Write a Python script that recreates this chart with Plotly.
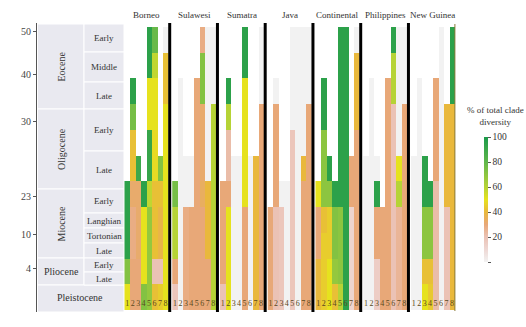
import plotly.graph_objects as go

N = None
regions = ["Borneo", "Sulawesi", "Sumatra", "Java", "Continental", "Philippines", "New Guinea"]
clades = ["1", "2", "3", "4", "5", "6", "7", "8"]
epochs = ["Eocene", "Oligocene", "Miocene", "Pliocene", "Pleistocene"]
sub_epochs = ["Early", "Middle", "Late", "Early", "Late", "Early", "Langhian",
              "Tortonian", "Late", "Early", "Late"]
age_ticks = ["50", "40", "30", "23", "10", "4"]
colorbar_ticks = [0, 20, 40, 60, 80, 100]

# % of total clade diversity; one list per clade (columns 1-8), 11 time bins top->bottom
borneo = [
    [N, N, N, N, N, N, 95, 95, 95, 72, 50],
    [N, N, 95, 75, 42, 42, 32, 28, 28, 30, 30],
    [N, N, N, N, N, 90, 32, 32, 32, 30, 30],
    [N, N, N, N, N, N, 95, 50, 50, 50, 72],
    [95, 95, 50, 50, 92, 92, 58, 68, 68, 68, 68],
    [78, 58, 50, 50, 48, 48, 42, 42, 42, 20, 42],
    [N, N, N, N, N, 72, 42, 38, 38, 20, 45],
    [0, 42, 42, 50, 50, 50, 50, 50, 50, 50, 50],
]
sulawesi = [
    [N, N, N, N, N, N, 75, 60, 60, 30, 18],
    [N, N, 0, 0, 0, 0, 0, 0, 0, 0, 0],
    [N, N, N, N, N, 0, 0, 28, 28, 28, 28],
    [N, N, N, N, N, 0, 0, 30, 30, 30, 30],
    [N, N, 30, 30, 30, 30, 30, 30, 30, 30, 30],
    [28, 72, 72, 32, 32, 32, 34, 30, 30, 30, 30],
    [0, 0, 0, 0, 0, 0, 40, 40, 40, 30, 30],
    [0, 0, 0, 60, 60, 60, 60, 60, 60, 60, 60],
]
sumatra = [
    [N, N, N, N, N, N, 30, 30, 30, 30, 20],
    [N, N, 95, 60, 22, 22, 30, 50, 50, 50, 50],
    [N, N, N, N, N, 0, 0, 0, 0, 0, 0],
    [N, N, N, N, N, 0, 0, 0, 0, 0, 0],
    [95, 95, 50, 50, 50, 50, 50, 30, 30, 30, 30],
    [N, N, N, N, N, 0, 0, 0, 0, 0, 0],
    [N, N, N, N, N, 40, 40, 40, 40, 40, 40],
    [0, 0, 0, 30, 30, 30, 30, 30, 30, 30, 30],
]
java = [
    [N, N, N, N, N, N, N, 30, 30, 30, 30],
    [N, N, 0, 30, 30, 30, 30, 20, 20, 20, 20],
    [N, N, N, N, N, N, 0, 18, 18, 18, 18],
    [N, N, N, N, N, N, 0, 0, 0, 0, 0],
    [0, 0, 0, 0, 18, 18, 18, 18, 18, 18, 18],
    [0, 0, 0, 0, 0, 0, 0, 0, 0, 0, 0],
    [0, 0, 0, 0, 0, 40, 30, 30, 30, 30, 30],
    [0, 0, 0, 30, 30, 30, 30, 30, 30, 30, 30],
]
continental = [
    [N, N, N, N, N, N, 50, 30, 30, 40, 40],
    [N, N, 95, 95, 70, 70, 70, 42, 45, 45, 45],
    [N, N, N, N, N, 95, 70, 45, 45, 50, 50],
    [N, N, N, N, N, N, 95, 72, 72, 68, 42],
    [95, 95, 95, 95, 95, 95, 95, 70, 70, 70, 60],
    [95, 95, 95, 95, 95, 95, 95, 95, 95, 95, 95],
    [N, N, N, N, N, 30, 30, 12, 12, 12, 12],
    [0, 40, 40, 40, 30, 30, 30, 30, 30, 30, 30],
]
philippines = [
    [N, N, N, N, N, 0, 0, 0, 0, 0, 0],
    [N, N, 0, 0, 0, 0, 0, 0, 0, 0, 0],
    [N, N, N, N, N, 0, 95, 30, 30, 15, 15],
    [N, N, N, N, N, N, N, 30, 30, 30, 30],
    [N, N, 30, 30, 30, 30, 30, 30, 30, 30, 30],
    [95, 60, 60, 20, 20, 20, 20, 20, 20, 20, 20],
    [0, 0, 0, 0, 0, 50, 60, 25, 25, 25, 25],
    [0, 0, 0, 30, 30, 30, 30, 30, 30, 30, 30],
]
new_guinea = [
    [N, N, N, N, N, 0, 0, 0, 0, 0, 0],
    [N, N, 0, 0, 0, 0, 0, 0, 0, 0, 0],
    [N, N, N, N, N, 95, 95, 70, 70, 42, 50],
    [N, N, N, N, N, N, 95, 70, 70, 42, 44],
    [N, N, 30, 30, 30, 30, 22, 22, 22, 22, 22],
    [0, 0, 0, 0, 0, 0, 0, 0, 0, 0, 0],
    [N, N, N, 40, 40, 40, 40, 20, 20, 20, 20],
    [95, 95, 95, 40, 40, 40, 40, 40, 40, 40, 40],
]
region_data = [borneo, sulawesi, sumatra, java, continental, philippines, new_guinea]

# ---------------- layout helpers ----------------
SERIF = "Liberation Serif, Times New Roman, serif"
W, H = 526, 327
ML, MR, MT, MB = 37, 68, 23, 15
PW, PH = W - ML - MR, H - MT - MB
PX_TOP, PX_BOT = MT, H - MB
ROW_PX, ROW0_PX = 25.75, 27.0


def u(px):  # pixel row -> row units on the y axis
    return (px - ROW0_PX) / ROW_PX


def px_x(px):  # pixel column -> paper x
    return (px - ML) / PW


def px_y(px):  # pixel row -> paper y
    return (H - MB - px) / PH


REGION_X0, REGION_PITCH, COL_W = 124.5, 47.75, 5.45
n_rows = len(borneo[0])

colorscale = [
    [0.0, "#f2f2f2"], [0.1, "#eed8d4"], [0.2, "#ebc2b5"], [0.3, "#e8a878"],
    [0.4, "#e9b83c"], [0.5, "#e6e21e"], [0.6, "#b6d336"], [0.7, "#8cc540"],
    [0.8, "#5fb64b"], [1.0, "#1b9a4a"],
]

fig = go.Figure()
num_x, num_t = [], []
for k, data in enumerate(region_data):
    x0 = REGION_X0 + k * REGION_PITCH
    xs = [x0 + (j + 0.5) * COL_W for j in range(len(clades))]
    z = [[data[c][r] for c in range(len(clades))] for r in range(n_rows)]
    fig.add_trace(go.Heatmap(
        x=xs, y=[r + 0.5 for r in range(n_rows)], z=z, coloraxis="coloraxis",
        hoverongaps=False, name=regions[k],
    ))
    num_x += xs
    num_t += clades

fig.add_trace(go.Scatter(
    x=num_x, y=[u(304)] * len(num_x), text=num_t, mode="text",
    textfont=dict(family=SERIF, size=8, color="#5a4820"), hoverinfo="skip",
    showlegend=False,
))

shapes = []
annotations = []
# geological time-scale panel
epoch_bounds = [(24, 109), (109, 189), (189, 258), (258, 285)]
sub_bounds = [(24, 52), (52, 82), (82, 109), (109, 151), (151, 189), (189, 213),
              (213, 228), (228, 243), (243, 258), (258, 272), (272, 285)]
PANEL = "#e9e9f0"
TXT = dict(showarrow=False, xanchor="center", yanchor="middle")
for (a, b), name in zip(epoch_bounds, epochs[:4]):
    shapes.append(dict(type="rect", xref="x", yref="y", x0=37.5, x1=84, y0=u(a), y1=u(b),
                       fillcolor=PANEL, line=dict(color="white", width=1), layer="below"))
    annotations.append(dict(x=61, y=u((a + b) / 2), xref="x", yref="y", text=name,
                            textangle=-90 if name != "Pliocene" else 0,
                            font=dict(family=SERIF, size=10, color="#333"), **TXT))
shapes.append(dict(type="rect", xref="x", yref="y", x0=37.5, x1=124, y0=u(285), y1=u(312),
                   fillcolor=PANEL, line=dict(color="white", width=1), layer="below"))
annotations.append(dict(x=80, y=u(297), xref="x", yref="y", text=epochs[4],
                        font=dict(family=SERIF, size=10, color="#333"), **TXT))
for (a, b), name in zip(sub_bounds, sub_epochs):
    shapes.append(dict(type="rect", xref="x", yref="y", x0=84, x1=124, y0=u(a), y1=u(b),
                       fillcolor=PANEL, line=dict(color="white", width=1), layer="below"))
    annotations.append(dict(x=104, y=u((a + b) / 2), xref="x", yref="y", text=name,
                            font=dict(family=SERIF, size=9, color="#333"), **TXT))

# separators and region titles
for k, name in enumerate(regions):
    x0 = REGION_X0 + k * REGION_PITCH
    annotations.append(dict(x=px_x(x0 + 4 * COL_W), y=px_y(15), xref="paper", yref="paper",
                            text=name, font=dict(family=SERIF, size=9, color="#333"), **TXT))
    if k < len(regions) - 1:
        xl = x0 + 8 * COL_W + 1.6
        shapes.append(dict(type="line", xref="x", yref="y", x0=xl, x1=xl, y0=u(22), y1=u(312),
                           line=dict(color="black", width=3)))
xr = REGION_X0 + 6 * REGION_PITCH + 8 * COL_W + 0.3
shapes.append(dict(type="line", xref="x", yref="y", x0=xr, x1=xr, y0=u(24), y1=u(311),
                   line=dict(color="#8a7a3a", width=1)))

annotations.append(dict(x=px_x(495), y=px_y(116), xref="paper", yref="paper",
                        text="% of total clade<br>diversity",
                        font=dict(family=SERIF, size=9, color="#333"), **TXT))

age_pos = [u(31), u(74), u(121), u(196), u(234), u(268)]

fig.update_layout(
    width=W, height=H, margin=dict(l=ML, r=MR, t=MT, b=MB, autoexpand=False),
    paper_bgcolor="white", plot_bgcolor="white", showlegend=False,
    shapes=shapes, annotations=annotations,
    coloraxis=dict(
        cmin=0, cmax=100, colorscale=colorscale,
        colorbar=dict(
            x=px_x(484), xanchor="left", xpad=0, ypad=0,
            y=px_y(199.5), yanchor="middle",
            thickness=4, len=125, lenmode="pixels", outlinewidth=0,
            tickvals=colorbar_ticks, ticktext=[""] + [str(v) for v in colorbar_ticks[1:]],
            ticks="outside", ticklen=3, tickcolor="#555",
            tickfont=dict(family=SERIF, size=9.5, color="#333"),
        ),
    ),
    xaxis=dict(range=[ML, W - MR], visible=False, fixedrange=True, automargin=False),
    yaxis=dict(range=[u(PX_BOT), u(PX_TOP)], tickvals=age_pos, ticktext=age_ticks,
               ticks="outside", ticklen=3, tickcolor="#555", showline=True, automargin=False,
               linecolor="#555", linewidth=1, showgrid=False, zeroline=False,
               tickfont=dict(family=SERIF, size=10, color="#444")),
)

fig.write_html("out.html")
